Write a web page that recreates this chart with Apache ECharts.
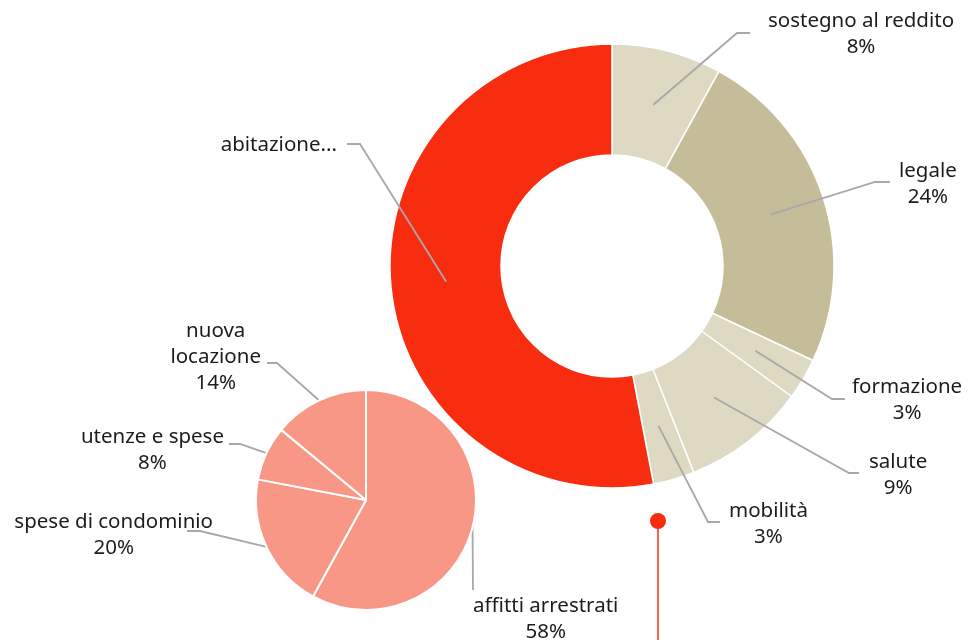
<!DOCTYPE html>
<html>
<head>
<meta charset="utf-8">
<script src="https://cdn.jsdelivr.net/npm/echarts@6/dist/echarts.min.js"></script>
<style>
html,body{margin:0;padding:0;background:#fff;}
#chart{width:969px;height:640px;}
</style>
</head>
<body>
<div id="chart"></div>
<script>
// ---- data ----
const donutCategories = ['sostegno al reddito', 'legale', 'formazione', 'salute', 'mobilità', 'abitazione'];
const donutValues = [8, 24, 3, 9, 3, 53];
const donutLabelText = ['sostegno al reddito', 'legale', 'formazione', 'salute', 'mobilità', 'abitazione...'];
const donutShowPercent = [true, true, true, true, true, false];

const pieCategories = ['affitti arrestrati', 'spese di condominio', 'utenze e spese', 'nuova locazione'];
const pieValues = [58, 20, 8, 14];
const pieLabelText = ['affitti arrestrati', 'spese di condominio', 'utenze e spese', 'nuova\nlocazione'];

// ---- styles ----
const donutColors = ['#ddd9c3', '#c5bd9a', '#ddd9c3', '#ddd9c3', '#ddd9c3', '#f82d10'];
const pieColor = '#f99787';
const FONT = 'Noto Sans';
const textColor = '#1c1c1c';
const lineColor = '#a8a8a8';

// label placement (style): elbow point, end of horizontal stub, text edge, text block centre y
const donutLabelPlace = [
  {elbow: [737, 33],  end: 750, edge: 768, cy: 34},
  {elbow: [875, 182], end: 890, edge: 899, cy: 184},
  {elbow: [832, 399], end: 845, edge: 852, cy: 400},
  {elbow: [849, 473], end: 859, edge: 869, cy: 475},
  {elbow: [708, 522], end: 720, edge: 729, cy: 524},
  {elbow: [360, 144], end: 347, edge: 337, cy: 145}
];
const pieLabelPlace = [
  {elbow: [473, 590], end: 473, edge: 473, cy: 619, right: true},
  {elbow: [200, 531], end: 187, edge: 213, cy: 535},
  {elbow: [240, 444], end: 229, edge: 224, cy: 450},
  {elbow: [277, 363], end: 267, edge: 261, cy: 357}
];

function makeLayout(place) {
  return function (p) {
    const L = place[p.dataIndex];
    const pts = p.labelLinePoints;
    const start = pts ? pts[0] : L.elbow;
    const right = L.right || L.end > L.elbow[0];
    const w = p.labelRect.width;
    const x = right ? L.edge + w / 2 : L.edge - w / 2;
    return {
      x: x,
      y: L.cy,
      align: 'center',
      verticalAlign: 'middle',
      labelLinePoints: [start, L.elbow, [L.end, L.elbow[1]]]
    };
  };
}

const labelBase = {
  show: true,
  position: 'outside',
  color: textColor,
  fontFamily: FONT,
  fontSize: 20.5,
  lineHeight: 26,
  align: 'center'
};

const chart = echarts.init(document.getElementById('chart'), null, {renderer: 'canvas'});

const option = {
  backgroundColor: '#ffffff',
  animation: false,
  series: [
    {
      type: 'pie',
      center: [612, 266],
      radius: [111, 222],
      startAngle: 90,
      clockwise: true,
      silent: true,
      z: 2,
      label: {show: false},
      labelLine: {show: false},
      itemStyle: {borderColor: '#ffffff', borderWidth: 1.5},
      data: donutCategories.map((c, i) => ({name: c, value: donutValues[i], itemStyle: {color: donutColors[i]}}))
    },
    {
      type: 'pie',
      center: [612, 266],
      radius: [111, 166.5],
      startAngle: 90,
      clockwise: true,
      silent: true,
      z: 5,
      avoidLabelOverlap: false,
      itemStyle: {color: 'rgba(0,0,0,0)', borderWidth: 0},
      label: Object.assign({}, labelBase, {
        formatter: p => donutShowPercent[p.dataIndex]
          ? donutLabelText[p.dataIndex] + '\n' + Math.round(p.percent) + '%'
          : donutLabelText[p.dataIndex]
      }),
      labelLine: {show: true, length: 10, length2: 10, smooth: false, lineStyle: {color: lineColor, width: 1.8}},
      labelLayout: makeLayout(donutLabelPlace),
      data: donutCategories.map((c, i) => ({name: c, value: donutValues[i]}))
    },
    {
      type: 'pie',
      center: [366, 500],
      radius: [0, 110],
      startAngle: 90,
      clockwise: true,
      silent: true,
      z: 3,
      avoidLabelOverlap: false,
      itemStyle: {color: pieColor, borderColor: '#ffffff', borderWidth: 2},
      label: Object.assign({}, labelBase, {
        formatter: p => pieLabelText[p.dataIndex] + '\n' + Math.round(p.percent) + '%'
      }),
      labelLine: {show: true, length: 10, length2: 10, smooth: false, lineStyle: {color: lineColor, width: 1.8}},
      labelLayout: makeLayout(pieLabelPlace),
      data: pieCategories.map((c, i) => ({name: c, value: pieValues[i]}))
    }
  ],
  graphic: [
    {type: 'line', shape: {x1: 658, y1: 521, x2: 658, y2: 640}, style: {stroke: '#f7634d', lineWidth: 2}, z: 10},
    {type: 'circle', shape: {cx: 658, cy: 521, r: 8}, style: {fill: '#f82d10'}, z: 11}
  ]
};

chart.setOption(option);
</script>
</body>
</html>
